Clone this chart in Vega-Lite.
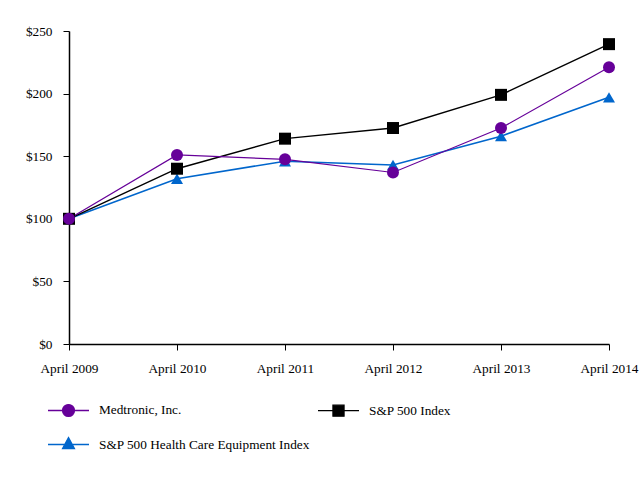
{
  "$schema": "https://vega.github.io/schema/vega-lite/v6.json",
  "width": 540,
  "height": 313,
  "autosize": {"type": "none"},
  "padding": {"left": 69, "top": 31, "right": 31, "bottom": 133},
  "background": "white",
  "config": {
    "view": {"stroke": null},
    "font": "Liberation Serif",
    "axis": {
      "domainColor": "black",
      "domainWidth": 1.5,
      "tickColor": "black",
      "tickWidth": 1,
      "tickSize": 6,
      "labelFont": "Liberation Serif",
      "labelFontSize": 13.3,
      "labelColor": "black",
      "grid": false,
      "title": null
    }
  },
  "data": {
    "values": [
      {"series": "S&P 500 Health Care Equipment Index", "date": "April 2009", "value": 100},
      {"series": "S&P 500 Health Care Equipment Index", "date": "April 2010", "value": 132},
      {"series": "S&P 500 Health Care Equipment Index", "date": "April 2011", "value": 146},
      {"series": "S&P 500 Health Care Equipment Index", "date": "April 2012", "value": 143},
      {"series": "S&P 500 Health Care Equipment Index", "date": "April 2013", "value": 166},
      {"series": "S&P 500 Health Care Equipment Index", "date": "April 2014", "value": 197},
      {"series": "S&P 500 Index", "date": "April 2009", "value": 100},
      {"series": "S&P 500 Index", "date": "April 2010", "value": 140},
      {"series": "S&P 500 Index", "date": "April 2011", "value": 164},
      {"series": "S&P 500 Index", "date": "April 2012", "value": 172.5},
      {"series": "S&P 500 Index", "date": "April 2013", "value": 199},
      {"series": "S&P 500 Index", "date": "April 2014", "value": 239.5},
      {"series": "Medtronic, Inc.", "date": "April 2009", "value": 100},
      {"series": "Medtronic, Inc.", "date": "April 2010", "value": 151},
      {"series": "Medtronic, Inc.", "date": "April 2011", "value": 147.5},
      {"series": "Medtronic, Inc.", "date": "April 2012", "value": 137},
      {"series": "Medtronic, Inc.", "date": "April 2013", "value": 172.5},
      {"series": "Medtronic, Inc.", "date": "April 2014", "value": 221}
    ]
  },
  "encoding": {
    "x": {
      "field": "date",
      "type": "ordinal",
      "sort": null,
      "scale": {"type": "point", "padding": 0},
      "axis": {"labelAngle": 0, "labelPadding": 11}
    },
    "y": {
      "field": "value",
      "type": "quantitative",
      "scale": {"domain": [0, 250]},
      "axis": {"values": [0, 50, 100, 150, 200, 250], "format": "$d", "labelPadding": 11}
    }
  },
  "layer": [
    {
      "mark": {"type": "line"},
      "encoding": {
        "color": {
          "field": "series",
          "scale": {
            "domain": ["Medtronic, Inc.", "S&P 500 Index", "S&P 500 Health Care Equipment Index"],
            "range": ["#660099", "#000000", "#0066cc"]
          },
          "legend": null
        },
        "strokeWidth": {
          "field": "series",
          "scale": {
            "domain": ["Medtronic, Inc.", "S&P 500 Index", "S&P 500 Health Care Equipment Index"],
            "range": [1.2, 1.6, 1.2]
          },
          "legend": null
        }
      }
    },
    {
      "mark": {"type": "point", "filled": true, "opacity": 1, "size": 144, "strokeWidth": 0},
      "encoding": {
        "color": {
          "field": "series",
          "scale": {
            "domain": ["Medtronic, Inc.", "S&P 500 Index", "S&P 500 Health Care Equipment Index"],
            "range": ["#660099", "#000000", "#0066cc"]
          },
          "legend": null
        },
        "shape": {
          "field": "series",
          "scale": {
            "domain": ["Medtronic, Inc.", "S&P 500 Index", "S&P 500 Health Care Equipment Index"],
            "range": ["circle", "square", "triangle-up"]
          },
          "legend": null
        }
      }
    },
    {
      "mark": {"type": "point", "filled": true, "opacity": 0, "size": 1681, "strokeWidth": 1.3},
      "encoding": {
        "color": {
          "field": "series",
          "scale": {
            "domain": ["Medtronic, Inc.", "S&P 500 Health Care Equipment Index", "S&P 500 Index"],
            "range": ["#660099", "#0066cc", "#000000"]
          },
          "legend": {
            "orient": "none", "legendX": -22, "legendY": 357.5, "columns": 2, "title": null,
            "symbolOpacity": 1, "symbolSize": 1681, "symbolStrokeWidth": 1.3,
            "labelFont": "Liberation Serif", "labelFontSize": 13.3, "labelColor": "black", "labelLimit": 400,
            "labelOffset": 9, "columnPadding": 5, "rowPadding": 3.5, "padding": 0
          }
        },
        "stroke": {
          "field": "series",
          "scale": {
            "domain": ["Medtronic, Inc.", "S&P 500 Health Care Equipment Index", "S&P 500 Index"],
            "range": ["#660099", "#0066cc", "#000000"]
          },
          "legend": {
            "orient": "none", "legendX": -22, "legendY": 357.5, "columns": 2, "title": null,
            "symbolOpacity": 1, "symbolSize": 1681, "symbolStrokeWidth": 1.3,
            "labelFont": "Liberation Serif", "labelFontSize": 13.3, "labelColor": "black", "labelLimit": 400,
            "labelOffset": 9, "columnPadding": 5, "rowPadding": 3.5, "padding": 0
          }
        },
        "shape": {
          "field": "series",
          "scale": {
            "domain": ["Medtronic, Inc.", "S&P 500 Health Care Equipment Index", "S&P 500 Index"],
            "range": [
              "M-1,0H1M0.29,0A0.29,0.29 0 1 1 -0.29,0A0.29,0.29 0 1 1 0.29,0Z",
              "M-1,0H1M0,-0.34L0.29,0.2H-0.29Z",
              "M-1,0H1M-0.27,-0.27H0.27V0.27H-0.27Z"
            ]
          },
          "legend": {
            "orient": "none", "legendX": -22, "legendY": 357.5, "columns": 2, "title": null,
            "symbolOpacity": 1, "symbolSize": 1681, "symbolStrokeWidth": 1.3,
            "labelFont": "Liberation Serif", "labelFontSize": 13.3, "labelColor": "black", "labelLimit": 400,
            "labelOffset": 9, "columnPadding": 5, "rowPadding": 3.5, "padding": 0
          }
        }
      }
    }
  ],
  "resolve": {"scale": {"color": "independent", "shape": "independent", "stroke": "independent", "strokeWidth": "independent"}}
}
